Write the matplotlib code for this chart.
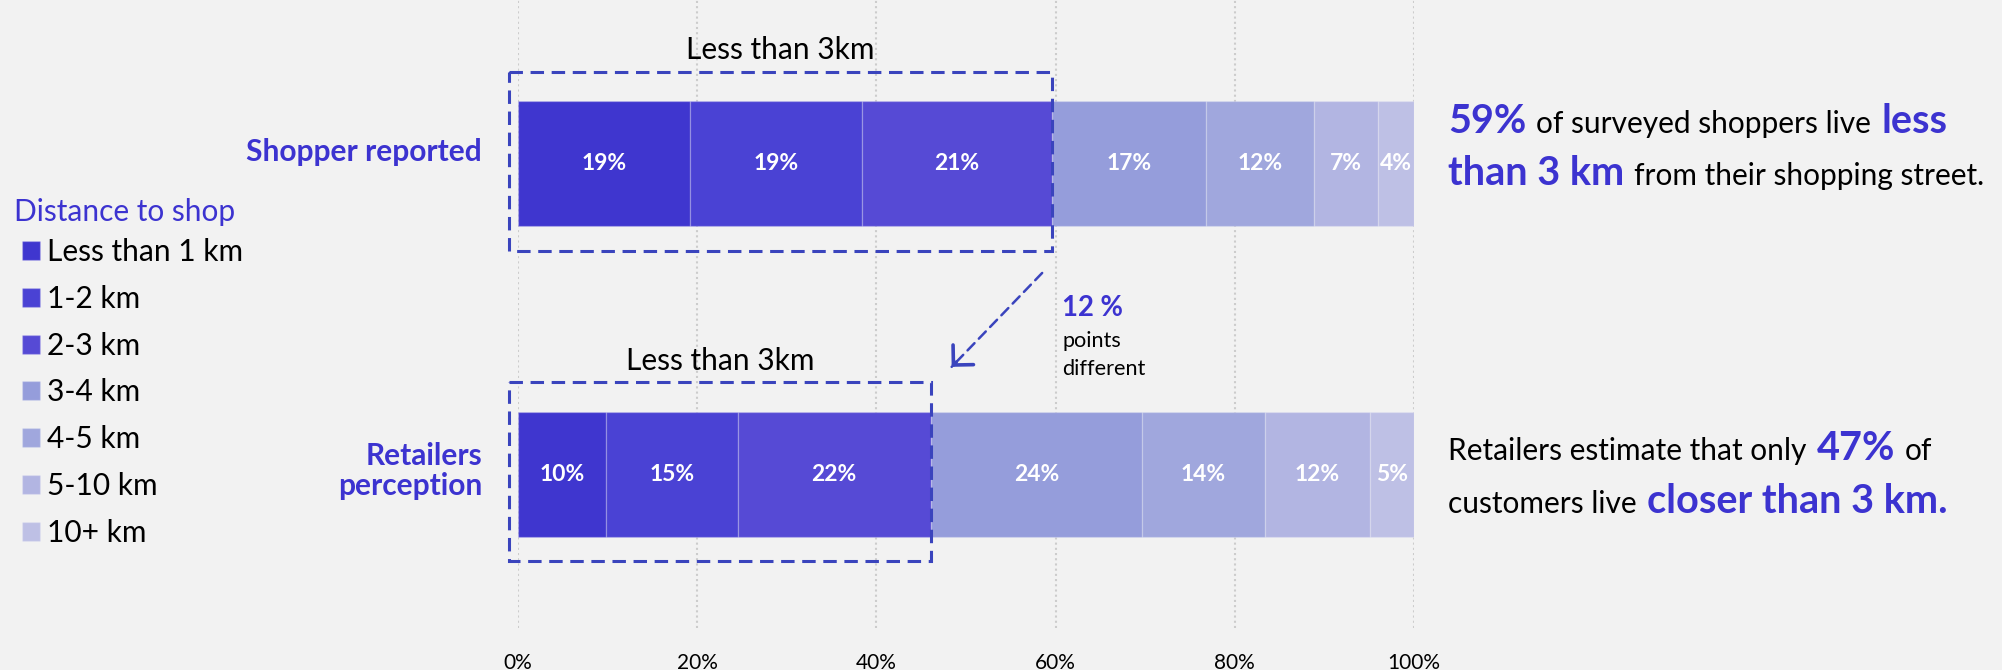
#!/usr/bin/python3

import numpy as np
import matplotlib
matplotlib.use('Agg')
import matplotlib.pyplot as plt
from matplotlib.patches import Rectangle

# distance to shop, share of answers in % (as printed on the bars)
groups = ['Shopper reported', 'Retailers\nperception']
distances = ['Less than 1 km', '1-2 km', '2-3 km', '3-4 km', '4-5 km', '5-10 km', '10+ km']
shopper = [19, 19, 21, 17, 12, 7, 4]
retailers = [10, 15, 22, 24, 14, 12, 5]
xticks = [0, 20, 40, 60, 80, 100]

colors = ['#3f36cf', '#4a42d4', '#564ad5', '#959ddb', '#a0a7dd', '#b2b5e2', '#bec0e5']
BLUE = '#3c33d0'
BOX = '#3a44bd'
BG = '#f2f2f2'

W, H, DPI = 2002, 670, 100
REG = 21.5
BIG = 28.5

plt.rcParams['font.family'] = ['Lato', 'DejaVu Sans']


def fx(px):
    return px / W


def fy(py):
    # pixels from the top -> figure fraction
    return 1 - py / H


fig = plt.figure(figsize=(W / DPI, H / DPI), dpi=DPI, facecolor=BG)
ax = fig.add_axes([fx(518), fy(628), 896 / W, 628 / H])
ax.set_facecolor(BG)

counts = np.array([shopper, retailers], dtype=float)
share = counts / counts.sum(axis=1, keepdims=True) * 100
ypos = np.arange(len(groups))

left = np.zeros(len(groups))
for i, name in enumerate(distances):
    bars = ax.barh(ypos, share[:, i], left=left, height=0.4, color=colors[i],
                   edgecolor=(1, 1, 1, 0.2), linewidth=1, label=name, zorder=2)
    ax.bar_label(bars, labels=['%d%%' % v for v in counts[:, i]], label_type='center',
                 color='white', fontweight='bold', fontsize=16.5)
    left += share[:, i]

ax.set_xlim(0, 100)
ax.set_ylim(1.494, -0.526)
ax.set_xticks(xticks)
ax.set_xticklabels(['%d%%' % t for t in xticks])
ax.tick_params(axis='x', length=0, pad=18, labelsize=15)
ax.set_yticks([])
ax.xaxis.grid(True, linestyle=(0, (1, 1.5)), color='#cccccc', linewidth=1.5)
ax.set_axisbelow(True)
for s in ax.spines.values():
    s.set_visible(False)

# row labels
ax.text(-4.0, ypos[0] - 0.037, groups[0], ha='right', va='center', color=BLUE,
        fontweight='bold', fontsize=REG)
ax.text(-4.0, ypos[1] - 0.01, groups[1], ha='right', va='center', color=BLUE,
        fontweight='bold', fontsize=REG, linespacing=1.1)

# dashed boxes round the "less than 3 km" part
for y, row in zip(ypos, share):
    near = row[:3].sum()
    x0 = -1.0
    ax.add_patch(Rectangle((x0, y - 0.2 - 0.096), near - x0, 0.4 + 0.096 + 0.08,
                           fill=False, edgecolor=BOX, linewidth=2.2,
                           linestyle=(0, (4.4, 2.5)), clip_on=False, zorder=4))
    ax.text((x0 + near) / 2, y - 0.296 - 0.07, 'Less than 3km', ha='center', va='center',
            fontsize=REG, color='black')

# arrow between the two boxes
start = (58.5, 0.352)
end = (48.4, 0.654)
ax.annotate('', xy=end, xytext=start, annotation_clip=False,
            arrowprops=dict(arrowstyle='-', color=BOX, lw=1.8, linestyle=(0, (4, 2.5)),
                            shrinkA=0, shrinkB=0))
back = (end[0] + 0.05 * (start[0] - end[0]), end[1] + 0.05 * (start[1] - end[1]))
ax.annotate('', xy=end, xytext=back, annotation_clip=False,
            arrowprops=dict(arrowstyle='->,head_length=0.85,head_width=0.85', color=BOX,
                            lw=2.6, shrinkA=0, shrinkB=0, mutation_scale=12))

fig.text(fx(1062), fy(316), '12 %', color=BLUE, fontweight='bold', fontsize=19.8, va='baseline')
fig.text(fx(1062), fy(347), 'points', color='black', fontsize=15.6, va='baseline')
fig.text(fx(1062), fy(375), 'different', color='black', fontsize=15.6, va='baseline')

# legend
fig.text(fx(14), fy(212), 'Distance to shop', color=BLUE, fontsize=REG, va='center')
handles, labels = ax.get_legend_handles_labels()
fig.legend(handles, labels, loc='upper left', bbox_to_anchor=(fx(22), fy(238)),
           frameon=False, fontsize=REG, handlelength=0.6, handleheight=0.6,
           handletextpad=0.25, labelspacing=0.63, borderpad=0, borderaxespad=0)


# text on the right, mixed sizes on one baseline
renderer = fig.canvas.get_renderer()


def rich_line(x, y, parts):
    for s, big in parts:
        t = fig.text(fx(x), fy(y), s, va='baseline', ha='left',
                     fontsize=BIG if big else REG,
                     fontweight='bold' if big else 'normal',
                     color=BLUE if big else 'black')
        x += t.get_window_extent(renderer).width + 10


rich_line(1448, 133, [('59%', True), ('of surveyed shoppers live', False), ('less', True)])
rich_line(1448, 185, [('than 3 km', True), ('from their shopping street.', False)])
rich_line(1448, 460, [('Retailers estimate that only', False), ('47%', True), ('of', False)])
rich_line(1448, 513, [('customers live', False), ('closer than 3 km.', True)])

fig.savefig('out.png', dpi=DPI, facecolor=BG)
